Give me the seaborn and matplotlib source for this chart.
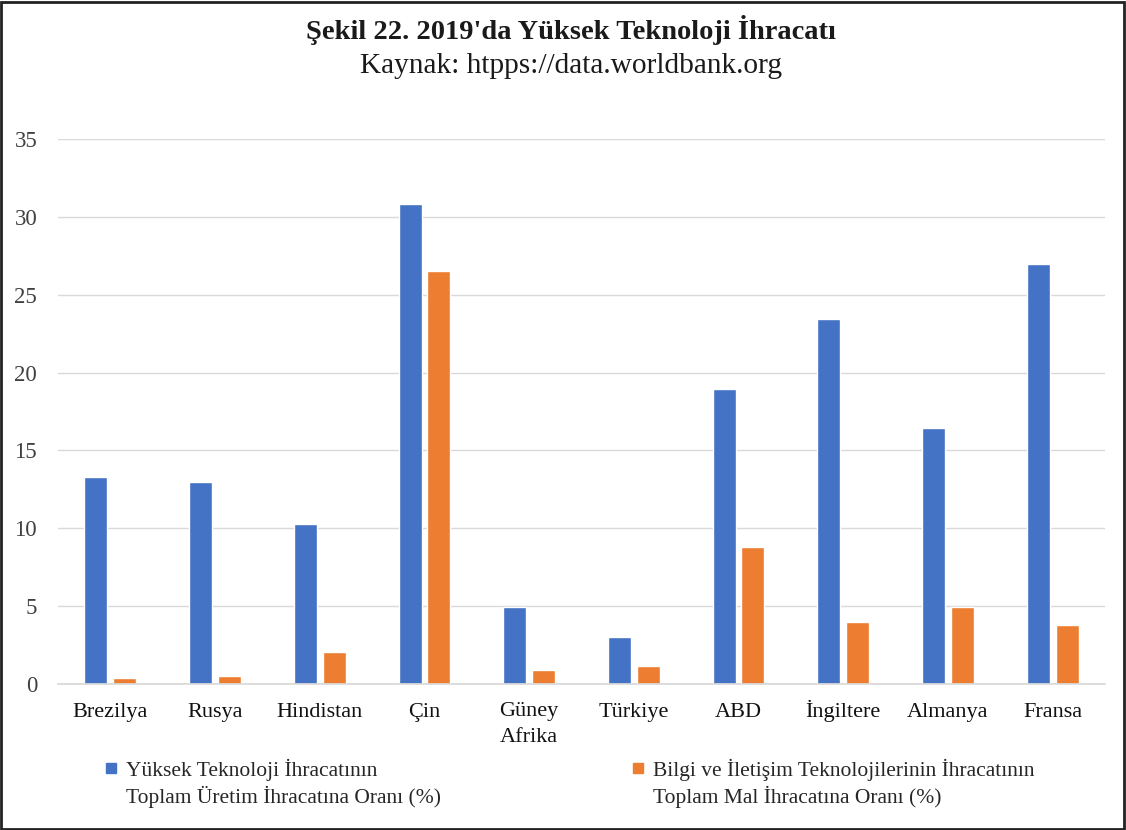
import matplotlib
matplotlib.use("Agg")
import matplotlib.pyplot as plt
import seaborn as sns
import pandas as pd
from matplotlib.patches import Rectangle
from matplotlib.lines import Line2D
from matplotlib.transforms import ScaledTranslation

countries = ["Brezilya", "Rusya", "Hindistan", "Çin", "Güney\nAfrika", "Türkiye",
             "ABD", "İngiltere", "Almanya", "Fransa"]
high_tech = [13.3, 13.0, 10.3, 30.8, 4.95, 3.0, 18.95, 23.45, 16.45, 27.0]
ict = [0.4, 0.5, 2.05, 26.5, 0.9, 1.15, 8.8, 4.0, 4.95, 3.8]
series_names = ["Yüksek Teknoloji İhracatının\nToplam Üretim İhracatına Oranı (%)",
                "Bilgi ve İletişim Teknolojilerinin İhracatının\nToplam Mal İhracatına Oranı (%)"]
colors = ["#4472C4", "#ED7D31"]

df = pd.DataFrame({
    "country": countries * 2,
    "value": high_tech + ict,
    "series": [series_names[0]] * len(countries) + [series_names[1]] * len(countries),
})

sns.set_theme(style="white")
plt.rcParams["font.family"] = ["Liberation Serif", "DejaVu Serif"]

fig = plt.figure(figsize=(11.26, 8.30), dpi=100)
ax = fig.add_axes([58 / 1126, 1 - 684 / 830, (1105 - 58) / 1126, (684 - 139) / 830])

sns.barplot(data=df, x="country", y="value", hue="series", palette=colors,
            width=0.55, gap=0.2, ax=ax, saturation=1, legend=False)

ax.set_ylim(0, 35)
ax.set_xlim(-0.5, 9.5)
ax.set_yticks(range(0, 36, 5))
ax.yaxis.grid(True, color="#D9D9D9", linewidth=1)
ax.set_axisbelow(True)
for s in ["top", "right", "left"]:
    ax.spines[s].set_visible(False)
ax.spines["bottom"].set_color("#D9D9D9")
ax.set_xlabel("")
ax.set_ylabel("")
ax.tick_params(axis="y", length=0, labelsize=16.5, labelcolor="#404040", pad=15)
ax.tick_params(axis="x", length=0, labelsize=16, labelcolor="#111111", pad=24)
for lbl in ax.get_xticklabels():
    lbl.set_linespacing(1.47)
    lbl.set_verticalalignment("baseline")

# legend: one entry per series, placed like the reference
leg_pos = [(106, 759), (633, 759)]
for name, col, (lx, ly) in zip(series_names, colors, leg_pos):
    h = Line2D([], [], marker="s", linestyle="none", markersize=7.6,
               markerfacecolor=col, markeredgecolor=col)
    leg = fig.legend([h], [name], loc="upper left",
                     bbox_to_anchor=(lx / 1126, 1 - ly / 830),
                     frameon=False, fontsize=15.5, handlelength=0.5, handleheight=1.07,
                     handletextpad=0.42, borderaxespad=0, borderpad=0)
    for txt in leg.get_texts():
        txt.set_linespacing(1.28)
    for c in leg._legend_handle_box.get_children():
        for row in c.get_children():
            row.align = "top"

fig.text(571 / 1126, 1 - 30 / 830, "Şekil 22. 2019'da Yüksek Teknoloji İhracatı", ha="center",
         va="center", fontsize=20.5, fontweight="bold", color="#1a1a1a")
fig.text(571 / 1126, 1 - 66 / 830, "Kaynak: htpps://data.worldbank.org", ha="center",
         va="center", fontsize=21.2, color="#1a1a1a")

fig.patches.append(Rectangle((1 / 1126, 1 / 830), 1 - 3 / 1126, 1 - 3 / 830,
                             transform=fig.transFigure, fill=False,
                             edgecolor="#222222", linewidth=2))

fig.canvas.draw()
for lbl in ax.get_xticklabels():
    if "\n" in lbl.get_text():
        n = lbl.get_text().count("\n")
        lbl.set_transform(lbl.get_transform() +
                          ScaledTranslation(0, -0.245 * n, fig.dpi_scale_trans))

fig.savefig("out.png", dpi=100, facecolor="white")
